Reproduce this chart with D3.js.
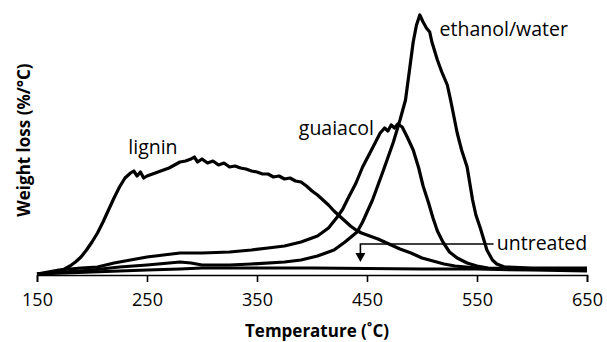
<!DOCTYPE html>
<html>
<head>
<meta charset="utf-8">
<script src="https://cdn.jsdelivr.net/npm/d3@7"></script>
<style>
  body { margin: 0; background: #fff; }
  svg { display: block; }
  text { font-family: "Open Sans", "Liberation Sans", sans-serif; fill: #000; }
</style>
</head>
<body>
<svg id="chart" width="607" height="342"></svg>
<script>
// DTG curves: temperature (°C) and weight-loss rate (%/°C)
const ligninT = [150,160,170,175,180,185,190,195,200,205,210,215,220,225,230,235,238,241,244,247,250,255,260,265,270,275,280,285,290,293,296,300,305,310,315,320,325,330,335,340,345,350,355,360,365,370,375,380,385,390,395,400,405,410,415,420,425,430,435,440,445,450,460,470,480,490,500,510,520,530,540,550,575,600,650];
const ligninV = [0.01,0.02,0.04,0.06,0.09,0.13,0.18,0.25,0.33,0.42,0.53,0.65,0.77,0.88,0.97,1.02,1.04,0.99,1.03,0.97,0.99,1.01,1.03,1.05,1.07,1.10,1.13,1.14,1.16,1.18,1.13,1.16,1.12,1.14,1.10,1.12,1.08,1.09,1.07,1.06,1.04,1.03,1.01,1.01,0.98,0.99,0.96,0.97,0.94,0.93,0.89,0.84,0.80,0.75,0.70,0.64,0.59,0.54,0.49,0.45,0.42,0.40,0.36,0.31,0.26,0.22,0.17,0.14,0.11,0.09,0.08,0.07,0.06,0.06,0.05];

const guaiacolT = [150,160,170,180,190,205,220,235,250,265,280,300,325,345,360,375,390,405,415,423,428,432,440,446,455,462,466,469,472,475,478,482,487,492,497,501,506,510,514,519,525,532,541,550,560,600,650];
const guaiacolV = [0.01,0.03,0.05,0.06,0.07,0.08,0.12,0.15,0.18,0.20,0.22,0.22,0.23,0.25,0.27,0.29,0.33,0.39,0.47,0.58,0.66,0.75,0.92,1.08,1.27,1.42,1.47,1.44,1.50,1.47,1.51,1.48,1.37,1.25,1.07,0.89,0.72,0.57,0.44,0.33,0.23,0.17,0.12,0.09,0.07,0.06,0.06];

const ethanolT = [150,175,200,225,250,270,280,290,300,325,345,375,390,405,420,430,441,446,455,465,474,480,485,489,492,495,498,501,504,507,509,514,518,523,526,532,536,541,546,549,553,559,564,568,575,600,650];
const ethanolV = [0.01,0.03,0.05,0.08,0.10,0.12,0.13,0.12,0.10,0.10,0.11,0.13,0.15,0.19,0.25,0.33,0.43,0.53,0.75,1.05,1.33,1.55,1.75,2.08,2.33,2.50,2.60,2.53,2.47,2.43,2.33,2.15,2.03,1.90,1.75,1.42,1.25,1.08,0.75,0.60,0.47,0.25,0.15,0.11,0.08,0.07,0.07];

const untreatedT = [150,200,250,280,300,350,400,450,500,550,600,650];
const untreatedV = [0.01,0.03,0.05,0.06,0.07,0.07,0.07,0.065,0.06,0.06,0.05,0.04];

const xTicks = [150,250,350,450,550,650];

const series = [
  { name: "lignin", T: ligninT, V: ligninV },
  { name: "guaiacol", T: guaiacolT, V: guaiacolV },
  { name: "ethanol/water", T: ethanolT, V: ethanolV },
  { name: "untreated", T: untreatedT, V: untreatedV }
];

// curve labels, placed in data coordinates
const labels = [
  { text: "lignin", t: 233, v: 1.21 },
  { text: "guaiacol", t: 388, v: 1.40 },
  { text: "ethanol/water", t: 516, v: 2.39 },
  { text: "untreated", t: 568, v: 0.25 }
];

const svg = d3.select("#chart");
const x = d3.scaleLinear().domain([150, 650]).range([37, 587]);
const y = d3.scaleLinear().domain([0, 2.65]).range([275, 10]);

const line = d3.line()
  .x(d => x(d[0]))
  .y(d => y(d[1]))
  .curve(d3.curveLinear);

svg.append("g")
  .selectAll("path")
  .data(series)
  .join("path")
  .attr("d", s => line(s.T.map((t, i) => [t, s.V[i]])))
  .attr("fill", "none")
  .attr("stroke", "#000")
  .attr("stroke-width", 3.2)
  .attr("stroke-linejoin", "round");

// x axis with ticks pointing down
const xAxis = svg.append("g")
  .attr("transform", `translate(0,${y(0)})`)
  .call(d3.axisBottom(x).tickValues(xTicks).tickSize(7).tickPadding(11).tickFormat(d3.format("d")));
xAxis.select(".domain").attr("stroke", "#000").attr("stroke-width", 1.6);
xAxis.selectAll(".tick line").attr("stroke", "#000").attr("stroke-width", 1.6);
xAxis.selectAll(".tick text")
  .style("font-family", "'Open Sans', sans-serif")
  .style("font-size", "18px")
  .attr("fill", "#000");

// axis titles
svg.append("text")
  .attr("x", 317).attr("y", 337)
  .attr("text-anchor", "middle")
  .style("font-size", "17px").style("font-weight", "bold")
  .text("Temperature (˚C)");

svg.append("text")
  .attr("transform", "translate(30,140) rotate(-90)")
  .attr("text-anchor", "middle")
  .style("font-size", "17px").style("font-weight", "bold")
  .text("Weight loss (%/°C)");

// curve labels
svg.append("g")
  .selectAll("text")
  .data(labels)
  .join("text")
  .attr("x", d => x(d.t))
  .attr("y", d => y(d.v))
  .style("font-size", "19.5px")
  .text(d => d.text);

// bracket arrow from the "untreated" label down to its curve
const arrowT = 444, arrowTop = 0.31, arrowTip = 0.13, labelT = 565;
svg.append("path")
  .attr("d", `M${x(labelT)},${y(arrowTop)}H${x(arrowT)}V${y(arrowTip) - 8}`)
  .attr("fill", "none")
  .attr("stroke", "#000")
  .attr("stroke-width", 1.6);
svg.append("path")
  .attr("d", `M${x(arrowT) - 5},${y(arrowTip) - 9}L${x(arrowT) + 5},${y(arrowTip) - 9}L${x(arrowT)},${y(arrowTip)}Z`)
  .attr("fill", "#000");
</script>
</body>
</html>
